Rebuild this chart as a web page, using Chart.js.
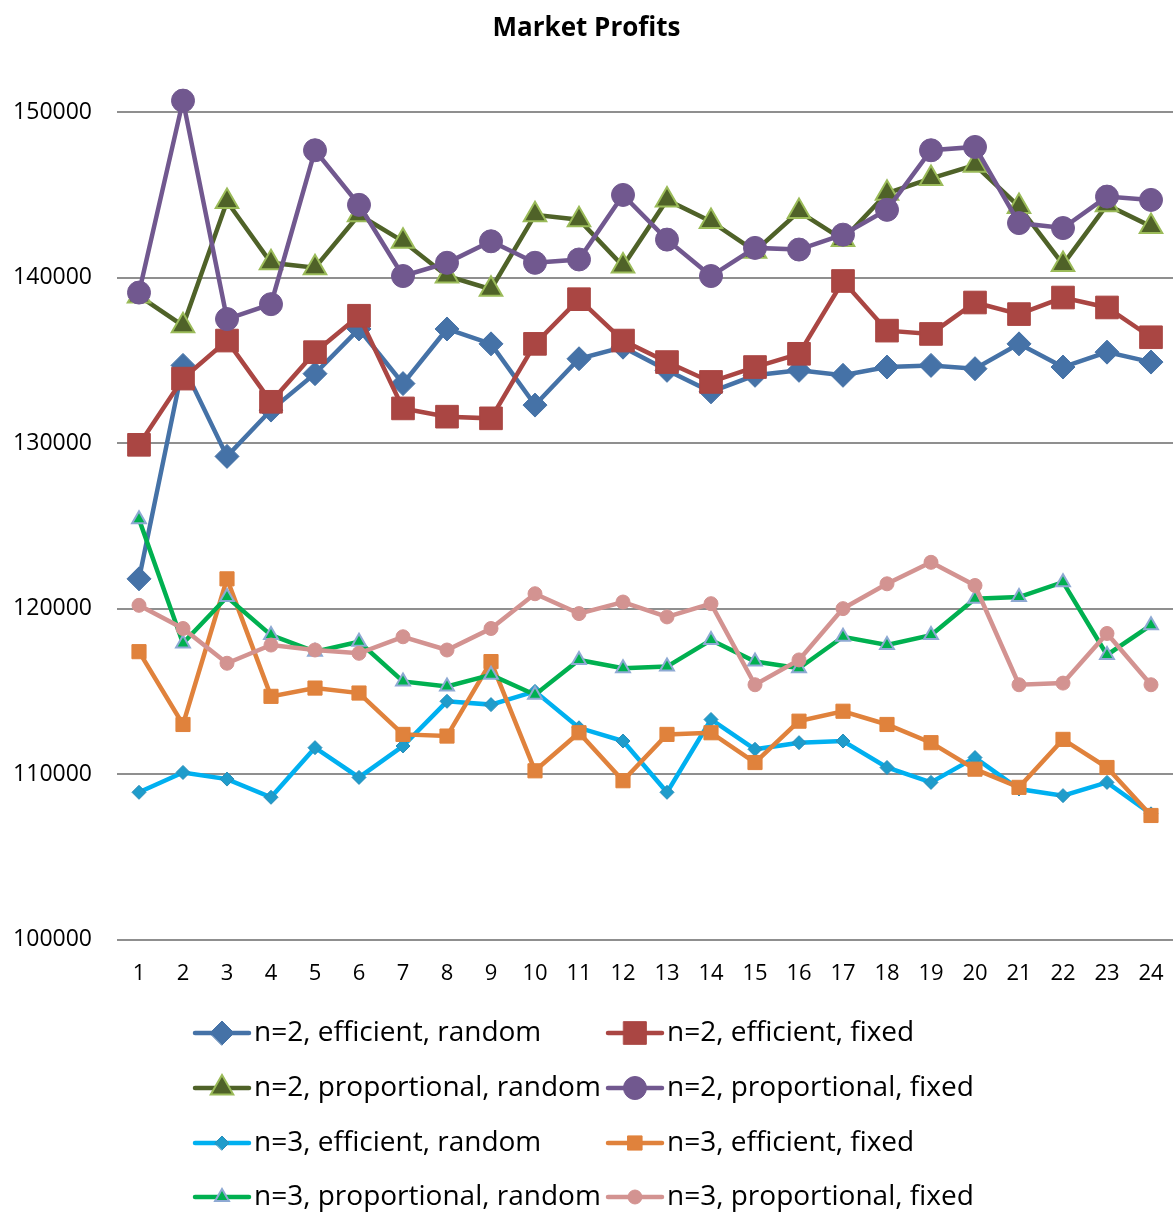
<!DOCTYPE html>
<html>
<head>
<meta charset="utf-8">
<script src="https://cdn.jsdelivr.net/npm/chart.js@4/dist/chart.umd.min.js"></script>
<style>
  html, body { margin: 0; padding: 0; background: #ffffff; overflow: hidden; }
  #wrap { width: 1198px; height: 1212px; }
</style>
</head>
<body>
<div id="wrap"><canvas id="chartProfits"></canvas></div>
<script>
var rounds = ['1','2','3','4','5','6','7','8','9','10','11','12','13','14','15','16','17','18','19','20','21','22','23','24'];

var seriesNames = [
    'n=2, efficient, random', 'n=2, efficient, fixed',
    'n=2, proportional, random', 'n=2, proportional, fixed',
    'n=3, efficient, random', 'n=3, efficient, fixed',
    'n=3, proportional, random', 'n=3, proportional, fixed'
];

var n2EffRandom  = [121800, 134700, 129200, 132000, 134200, 136900, 133600, 136900, 136000, 132300, 135100, 135800, 134400, 133100, 134100, 134400, 134100, 134600, 134700, 134500, 136000, 134600, 135500, 134900];
var n2EffFixed   = [129900, 133900, 136200, 132500, 135500, 137700, 132100, 131600, 131500, 136000, 138700, 136200, 134900, 133700, 134600, 135400, 139800, 136800, 136600, 138500, 137800, 138800, 138200, 136400];
var n2PropRandom = [138900, 137100, 144600, 140900, 140600, 143800, 142200, 140100, 139300, 143800, 143500, 140700, 144700, 143400, 141600, 144000, 142300, 145100, 146000, 146800, 144300, 140800, 144400, 143100];
var n2PropFixed  = [139100, 150700, 137500, 138400, 147700, 144400, 140100, 140900, 142200, 140900, 141100, 145000, 142300, 140100, 141800, 141700, 142600, 144100, 147700, 147900, 143300, 143000, 144900, 144700];
var n3EffRandom  = [108900, 110100, 109700, 108600, 111600, 109800, 111700, 114400, 114200, 115000, 112800, 112000, 108900, 113300, 111500, 111900, 112000, 110400, 109500, 111000, 109100, 108700, 109500, 107600];
var n3EffFixed   = [117400, 113000, 121800, 114700, 115200, 114900, 112400, 112300, 116800, 110200, 112500, 109600, 112400, 112500, 110700, 113200, 113800, 113000, 111900, 110300, 109200, 112100, 110400, 107500];
var n3PropRandom = [125400, 117900, 120700, 118400, 117400, 118000, 115600, 115300, 116000, 114800, 116900, 116400, 116500, 118100, 116800, 116400, 118300, 117800, 118400, 120600, 120700, 121600, 117200, 119000];
var n3PropFixed  = [120200, 118800, 116700, 117800, 117500, 117300, 118300, 117500, 118800, 120900, 119700, 120400, 119500, 120300, 115400, 116900, 120000, 121500, 122800, 121400, 115400, 115500, 118500, 115400];

var yTicks = [100000, 110000, 120000, 130000, 140000, 150000];

var FONT = "'Open Sans', 'Noto Sans', 'DejaVu Sans', sans-serif";

function series(i, data, line, fill, border, style, radius, bw) {
    return {
        label: seriesNames[i],
        data: data,
        borderColor: line,
        backgroundColor: fill,
        borderWidth: 4.5,
        tension: 0,
        pointStyle: style,
        pointRadius: radius,
        pointHoverRadius: radius,
        pointBackgroundColor: fill,
        pointBorderColor: border,
        pointBorderWidth: bw,
        clip: false,
        order: 8 - i
    };
}

// legend drawn as two columns, line + marker like the original
var columnLegend = {
    id: 'columnLegend',
    afterDraw: function(chart) {
        var ctx = chart.ctx;
        var colX = [195, 608];
        var rowY = [1033, 1088, 1143, 1197];
        chart.data.datasets.forEach(function(ds, i) {
            var x = colX[i % 2];
            var y = rowY[Math.floor(i / 2)];
            ctx.save();
            ctx.lineCap = 'round';
            ctx.strokeStyle = ds.borderColor;
            ctx.lineWidth = 4.5;
            ctx.beginPath();
            ctx.moveTo(x, y);
            ctx.lineTo(x + 54, y);
            ctx.stroke();
            ctx.fillStyle = ds.pointBackgroundColor;
            ctx.strokeStyle = ds.pointBorderColor;
            ctx.lineWidth = ds.pointBorderWidth;
            Chart.helpers.drawPoint(ctx, {
                pointStyle: ds.pointStyle,
                radius: ds.pointRadius,
                rotation: 0,
                borderWidth: ds.pointBorderWidth
            }, x + 27, y);
            ctx.fillStyle = '#000000';
            ctx.font = '28px ' + FONT;
            ctx.textBaseline = 'middle';
            ctx.textAlign = 'left';
            ctx.fillText(ds.label, x + 59, y);
            ctx.restore();
        });
    }
};

var ctx = document.getElementById('chartProfits');
var myChart = new Chart(ctx, {
    type: 'line',
    data: {
        labels: rounds,
        datasets: [
            series(0, n2EffRandom,  '#4572A7', '#4572A7', '#4572A7', 'rectRot', 12, 1),
            series(1, n2EffFixed,   '#AA4643', '#AA4643', '#AA4643', 'rect', 16, 1),
            series(2, n2PropRandom, '#4F6228', '#4F6228', '#9BBB59', 'triangle', 13, 2),
            series(3, n2PropFixed,  '#71588F', '#71588F', '#71588F', 'circle', 11.5, 1),
            series(4, n3EffRandom,  '#00B0F0', '#1F9CCB', '#2A8DB8', 'rectRot', 7, 1),
            series(5, n3EffFixed,   '#E0823C', '#E0823C', '#E0823C', 'rect', 10, 1),
            series(6, n3PropRandom, '#00B050', '#00B050', '#8EA9D3', 'triangle', 8, 2),
            series(7, n3PropFixed,  '#D39391', '#D39391', '#D39391', 'circle', 7, 1)
        ]
    },
    options: {
        responsive: true,
        maintainAspectRatio: false,
        animation: false,
        events: [],
        layout: { autoPadding: false, padding: { left: 0, right: 25, top: 0, bottom: 204 } },
        plugins: {
            legend: { display: false },
            tooltip: { enabled: false },
            title: {
                display: true,
                text: 'Market Profits',
                color: '#000000',
                font: { family: FONT, size: 26, weight: 'bold' },
                padding: { top: 13, bottom: 68 }
            }
        },
        scales: {
            x: {
                offset: true,
                grid: { display: false, drawTicks: false },
                border: { display: false },
                ticks: {
                    color: '#000000',
                    font: { family: FONT, size: 22 },
                    padding: 21,
                    autoSkip: false,
                    maxRotation: 0
                }
            },
            y: {
                min: yTicks[0],
                max: yTicks[yTicks.length - 1],
                afterFit: function(scale) { scale.width = 117; },
                afterBuildTicks: function(scale) {
                    scale.ticks = yTicks.map(function(v) { return { value: v }; });
                },
                grid: { color: '#8f8f8f', lineWidth: 2, drawTicks: false },
                border: { display: false },
                ticks: {
                    color: '#000000',
                    font: { family: FONT, size: 23 },
                    padding: 25,
                    callback: function(v) { return String(v); }
                }
            }
        }
    },
    plugins: [columnLegend]
});
</script>
</body>
</html>
